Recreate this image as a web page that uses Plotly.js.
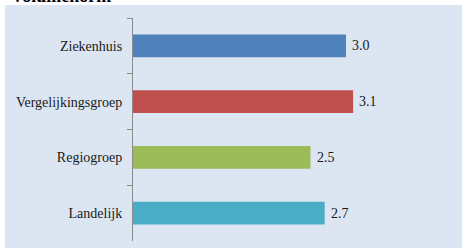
<!DOCTYPE html>
<html>
<head>
<meta charset="utf-8">
<script src="https://cdn.plot.ly/plotly-3.0.1.min.js"></script>
<style>
  html, body { margin: 0; padding: 0; background: #ffffff; }
  #chart { width: 462px; height: 248px; }
</style>
</head>
<body>
<div id="chart"></div>
<script>
const categories = ["Ziekenhuis", "Vergelijkingsgroep", "Regiogroep", "Landelijk"];
const values = [3.0, 3.1, 2.5, 2.7];
const barColors = ["#4F81BD", "#C0504D", "#9BBB59", "#4BACC6"];
const titleText = "Volumenorm";

const W = 462, H = 248;
const mL = 133, mR = 10, mT = 18, mB = 7;
const pw = W - mL - mR, ph = H - mT - mB;
const px2x = p => (p - mL) / pw;
const py2y = p => (H - mB - p) / ph;

const trace = {
  type: "bar",
  orientation: "h",
  y: categories,
  x: values,
  marker: { color: barColors },
  width: 0.41,
  hoverinfo: "none"
};

const valueLabels = categories.map((c, i) => ({
  x: values[i], y: c, xref: "x", yref: "y",
  text: values[i].toFixed(1),
  xanchor: "left", yanchor: "middle",
  xshift: 4,
  showarrow: false,
  font: { family: "Liberation Serif, serif", size: 14, color: "#1a1a1a" }
}));

const layout = {
  width: W, height: H,
  margin: { l: mL, r: mR, t: mT, b: mB, pad: 0 },
  paper_bgcolor: "#ffffff",
  plot_bgcolor: "rgba(0,0,0,0)",
  showlegend: false,
  xaxis: {
    range: [0, pw / 71],
    visible: false,
    showgrid: false,
    zeroline: false
  },
  yaxis: {
    autorange: "reversed",
    showline: true,
    linecolor: "#8c8c8c",
    linewidth: 1,
    ticks: "outside",
    ticklen: 5,
    tickcolor: "#8c8c8c",
    tickson: "boundaries",
    showgrid: false,
    zeroline: false,
    ticklabelstandoff: 7,
    tickfont: { family: "Liberation Serif, serif", size: 14, color: "#1a1a1a" }
  },
  shapes: [{
    type: "rect", layer: "below",
    xref: "paper", yref: "paper",
    x0: px2x(5), x1: px2x(462), y0: py2y(248), y1: py2y(5),
    fillcolor: "#DCE6F2", line: { width: 0 }
  }],
  annotations: valueLabels.concat([{
    text: "<b>" + titleText + "</b>",
    xref: "paper", yref: "paper",
    x: px2x(9), y: py2y(8),
    xanchor: "left", yanchor: "bottom",
    showarrow: false,
    font: { family: "Liberation Serif, serif", size: 18, color: "#000000" }
  }])
};

Plotly.newPlot("chart", [trace], layout, { displayModeBar: false, staticPlot: true });
</script>
</body>
</html>
